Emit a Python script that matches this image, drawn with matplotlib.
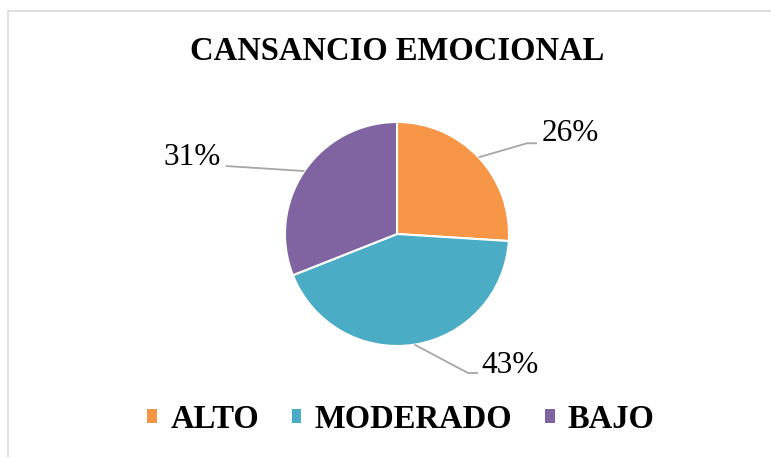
import numpy as np
import matplotlib.pyplot as plt
from matplotlib.patches import Rectangle

plt.rcParams['font.family'] = ['Liberation Serif', 'DejaVu Serif']

categorias = ['ALTO', 'MODERADO', 'BAJO']
valores = [26, 43, 31]
colores = ['#F79646', '#4BACC6', '#8064A2']
etiquetas = ['26%', '43%', '31%']

W, H = 771, 457
cx, cy, r = 397, 234, 112

fig = plt.figure(figsize=(W / 100, H / 100), dpi=100)
ax = fig.add_axes([0, 0, 1, 1])

# cadre gris du graphique
fig.patches.append(Rectangle((8 / W, -0.1), 1.2, 1 - 11 / H + 0.1, transform=fig.transFigure,
                             fill=False, edgecolor='#D9D9D9', linewidth=1.2))

wedges, _ = ax.pie(valores, colors=colores, startangle=90, counterclock=False,
                   radius=1, wedgeprops=dict(edgecolor='white', linewidth=1.5))
ax.set_xlim(-cx / r, (W - cx) / r)
ax.set_ylim((cy - H) / r, cy / r)
ax.set_aspect('equal')
ax.axis('off')

# lignes de rappel: (coude, fin de ligne, position du texte)
rappels = [
    ((1.16, 0.81), (1.25, 0.81), (1.545, 0.90)),
    ((0.634, -1.241), (0.723, -1.241), (1.01, -1.17)),
    ((-1.53, 0.607), (-1.53, 0.607), (-1.83, 0.68)),
]
for w, lab, (coude, fin, txt) in zip(wedges, etiquetas, rappels):
    ang = np.deg2rad((w.theta1 + w.theta2) / 2)
    x0, y0 = np.cos(ang), np.sin(ang)
    ax.plot([x0, coude[0], fin[0]], [y0, coude[1], fin[1]], color='#A6A6A6', lw=1.3,
            solid_capstyle='butt')
    ax.text(txt[0], txt[1], lab, fontsize=22.5, ha='center', va='center')

fig.text(cx / W, 1 - 52 / H, 'CANSANCIO EMOCIONAL', fontsize=23.5, fontweight='bold',
         ha='center', va='center')

leg = fig.legend(wedges, categorias, loc='center', bbox_to_anchor=(401 / W, 1 - 419 / H),
                 ncol=3, frameon=False, prop={'size': 23.5, 'weight': 'bold'},
                 handlelength=0.3, handleheight=0.3, handletextpad=0.4, columnspacing=1.0)
for h in leg.legend_handles:
    h.set_edgecolor('none')

fig.savefig('out.png', dpi=100)
